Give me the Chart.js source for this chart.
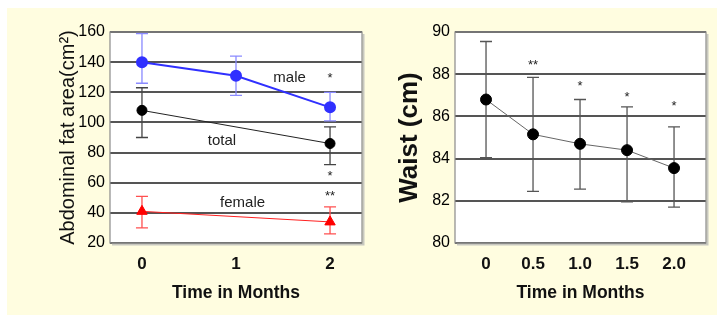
<!DOCTYPE html>
<html>
<head>
<meta charset="utf-8">
<script src="https://cdn.jsdelivr.net/npm/chart.js@4.4.1/dist/chart.umd.min.js"></script>
<style>
  html, body { margin: 0; padding: 0; background: #fff; }
  #wrap { position: relative; width: 717px; height: 322px; overflow: hidden; }
  #bg { position: absolute; left: 7px; top: 8px; right: 0; bottom: 7px; background: #fffde0; }
  #fat { position: absolute; left: 0; top: 0; }
  #waist { position: absolute; left: 360px; top: 0; }
</style>
</head>
<body>
<div id="wrap">
  <div id="bg"></div>
  <canvas id="fat" width="370" height="322"></canvas>
  <canvas id="waist" width="357" height="322"></canvas>
</div>
<script>
// left panel: abdominal fat area (cm2)
const fatMonths = [0, 1, 2];
const maleMean = [140, 131, 110];
const maleLow = [126, 118, 101];
const maleHigh = [159, 144, 120];
const subMonths = [0, 2];
const totalMean = [108, 86];
const totalLow = [90, 72];
const totalHigh = [123, 97];
const femaleMean = [41, 34];
const femaleLow = [30, 26];
const femaleHigh = [51, 44];
const fatTicks = [20, 40, 60, 80, 100, 120, 140, 160];
const fatMonthLabels = ["0", "1", "2"];

// right panel: waist (cm)
const waistMonths = [0, 0.5, 1.0, 1.5, 2.0];
const waistMean = [86.8, 85.15, 84.7, 84.4, 83.55];
const waistLow = [84.05, 82.45, 82.55, 81.95, 81.7];
const waistHigh = [89.55, 87.85, 86.8, 86.45, 85.5];
const waistTicks = [80, 82, 84, 86, 88, 90];
const waistMonthLabels = ["0", "0.5", "1.0", "1.5", "2.0"];

// text notes placed in data units
const fatNotes = [
    { x: 1.57, y: 129.5, text: "male", size: 15 },
    { x: 0.85, y: 87.7, text: "total", size: 15 },
    { x: 1.07, y: 46.5, text: "female", size: 15 },
    { x: 2, y: 129.5, text: "*", size: 13 },
    { x: 2, y: 64.4, text: "*", size: 13 },
    { x: 2, y: 51, text: "**", size: 13 }
];
const waistNotes = [
    { x: 0.5, y: 88.4, text: "**", size: 13 },
    { x: 1.0, y: 87.4, text: "*", size: 13 },
    { x: 1.5, y: 86.9, text: "*", size: 13 },
    { x: 2.0, y: 86.45, text: "*", size: 13 }
];

const FONT = "'Liberation Sans', Arial, sans-serif";

function pts(xs, ys) {
    return xs.map(function (x, i) { return { x: x, y: ys[i] }; });
}

const panelPlugin = {
    id: "panel",
    beforeDraw(chart) {
        const c = chart.ctx, a = chart.chartArea;
        c.save();
        c.fillStyle = "#fff";
        c.fillRect(a.left, a.top, a.right - a.left, a.bottom - a.top);
        c.restore();
    },
    afterDraw(chart) {
        const c = chart.ctx, a = chart.chartArea;
        c.save();
        c.strokeStyle = "#c8c8c0";
        c.lineWidth = 2;
        c.beginPath();
        c.moveTo(a.right + 1.5, a.top + 2);
        c.lineTo(a.right + 1.5, a.bottom + 1.5);
        c.lineTo(a.left + 2, a.bottom + 1.5);
        c.stroke();
        c.strokeStyle = "#8a8a8a";
        c.lineWidth = 1.2;
        c.strokeRect(a.left, a.top, a.right - a.left, a.bottom - a.top);
        c.restore();
    }
};

const errorBarPlugin = {
    id: "errorBars",
    beforeDatasetsDraw(chart) {
        const c = chart.ctx, xs = chart.scales.x, ys = chart.scales.y;
        chart.data.datasets.forEach(function (ds) {
            if (!ds.errLow) return;
            c.save();
            c.strokeStyle = ds.errColor;
            c.lineWidth = 1.3;
            ds.data.forEach(function (p, i) {
                const px = xs.getPixelForValue(p.x);
                const lo = ys.getPixelForValue(ds.errLow[i]);
                const hi = ys.getPixelForValue(ds.errHigh[i]);
                const w = ds.capWidth;
                c.beginPath();
                c.moveTo(px, lo); c.lineTo(px, hi);
                c.moveTo(px - w, lo); c.lineTo(px + w, lo);
                c.moveTo(px - w, hi); c.lineTo(px + w, hi);
                c.stroke();
            });
            c.restore();
        });
    }
};

const notesPlugin = {
    id: "notes",
    afterDatasetsDraw(chart, args, opts) {
        const c = chart.ctx, xs = chart.scales.x, ys = chart.scales.y;
        c.save();
        c.fillStyle = "#222";
        c.textAlign = "center";
        c.textBaseline = "middle";
        (opts.items || []).forEach(function (n) {
            c.font = n.size + "px " + FONT;
            c.fillText(n.text, xs.getPixelForValue(n.x), ys.getPixelForValue(n.y));
        });
        c.restore();
    }
};

function makeOptions(cfg) {
    return {
        responsive: false,
        animation: false,
        layout: { padding: { top: 32, right: cfg.padRight, bottom: 0, left: 0 } },
        plugins: {
            legend: { display: false },
            tooltip: { enabled: false },
            notes: { items: cfg.notes }
        },
        scales: {
            x: {
                type: "linear",
                min: cfg.xMin,
                max: cfg.xMax,
                afterFit(s) { s.height = 79; },
                afterBuildTicks(s) { s.ticks = cfg.xTicks.map(function (v) { return { value: v }; }); },
                grid: { display: false, drawTicks: false },
                border: { display: false },
                ticks: {
                    padding: 11,
                    color: "#111",
                    font: { family: FONT, size: 17, weight: "bold" },
                    callback: function (v, i) { return cfg.xLabels[i]; }
                },
                title: {
                    display: true,
                    text: "Time in Months",
                    color: "#111",
                    font: { family: FONT, size: 17.5, weight: "bold" },
                    padding: { top: 0, bottom: 18 }
                }
            },
            y: {
                min: cfg.yTicks[0],
                max: cfg.yTicks[cfg.yTicks.length - 1],
                afterFit(s) { s.width = cfg.yWidth; },
                afterBuildTicks(s) { s.ticks = cfg.yTicks.map(function (v) { return { value: v }; }); },
                grid: { color: "#555", lineWidth: 2, drawTicks: false },
                border: { display: false },
                ticks: {
                    padding: 5,
                    color: "#000",
                    font: { family: FONT, size: 16 }
                },
                title: {
                    display: true,
                    text: cfg.yTitle,
                    color: "#111",
                    font: cfg.yTitleFont,
                    padding: { top: cfg.yTitlePad, bottom: 0 }
                }
            }
        }
    };
}

new Chart(document.getElementById("fat"), {
    type: "line",
    data: {
        datasets: [
            {
                data: pts(fatMonths, maleMean),
                errLow: maleLow, errHigh: maleHigh, errColor: "#8a8aff", capWidth: 6,
                borderColor: "#3030ff", borderWidth: 2,
                pointBackgroundColor: "#3030ff", pointBorderColor: "#3030ff",
                pointRadius: 5, pointStyle: "circle"
            },
            {
                data: pts(subMonths, totalMean),
                errLow: totalLow, errHigh: totalHigh, errColor: "#444", capWidth: 6,
                borderColor: "#222", borderWidth: 1,
                pointBackgroundColor: "#000", pointBorderColor: "#000",
                pointRadius: 5, pointStyle: "circle"
            },
            {
                data: pts(subMonths, femaleMean),
                errLow: femaleLow, errHigh: femaleHigh, errColor: "#ff5050", capWidth: 6,
                borderColor: "#ff2020", borderWidth: 1,
                pointBackgroundColor: "#ff0000", pointBorderColor: "#ff0000",
                pointRadius: 6, pointStyle: "triangle"
            }
        ]
    },
    options: makeOptions({
        padRight: 8, xMin: -0.34, xMax: 2.34, xTicks: fatMonths, xLabels: fatMonthLabels,
        yTicks: fatTicks, yWidth: 110, notes: fatNotes,
        yTitle: "Abdominal fat area(cm\u00b2)",
        yTitleFont: { family: FONT, size: 20 }, yTitlePad: 56
    }),
    plugins: [panelPlugin, errorBarPlugin, notesPlugin]
});

new Chart(document.getElementById("waist"), {
    type: "line",
    data: {
        datasets: [
            {
                data: pts(waistMonths, waistMean),
                errLow: waistLow, errHigh: waistHigh, errColor: "#555", capWidth: 6,
                borderColor: "#666", borderWidth: 1,
                pointBackgroundColor: "#000", pointBorderColor: "#000",
                pointRadius: 5.5, pointStyle: "circle"
            }
        ]
    },
    options: makeOptions({
        padRight: 11, xMin: -0.33, xMax: 2.34, xTicks: waistMonths, xLabels: waistMonthLabels,
        yTicks: waistTicks, yWidth: 95, notes: waistNotes,
        yTitle: "Waist (cm)",
        yTitleFont: { family: FONT, size: 26, weight: "bold" }, yTitlePad: 34
    }),
    plugins: [panelPlugin, errorBarPlugin, notesPlugin]
});
</script>
</body>
</html>
